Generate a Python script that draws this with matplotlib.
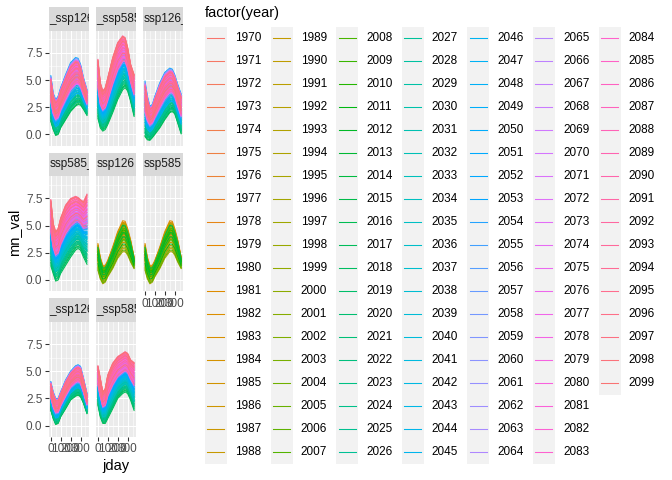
import numpy as np
import matplotlib
matplotlib.use('Agg')
import matplotlib.pyplot as plt
from matplotlib.patches import Rectangle

plt.rcParams['font.family'] = ['Liberation Sans', 'DejaVu Sans']

#                   Data

YEARS = list(range(1970, 2100))
HIST_YEARS = list(range(1970, 2015))
FUT_YEARS = list(range(2015, 2100))

JDAY = [1, 25, 50, 75, 100, 150, 200, 250, 275, 300, 330, 365]

# facet strip text as visible (the labels are clipped by the narrow strips)
STRIPS = ['_ssp126', '_ssp585', 'ssp126_', 'ssp585_', 'ssp126', 'ssp585', '_ssp126', '_ssp585']
SCENARIO = ['ssp126', 'ssp585', 'ssp126', 'ssp585', 'hist', 'hist', 'ssp126', 'ssp585']

# coolest / warmest curves per panel
LOW = [
    [1.2, 0.45, -0.1, 0.0, 0.6, 1.35, 2.1, 2.6, 2.75, 2.7, 2.3, 1.75],
    [1.5, 0.6, 0.3, 0.45, 0.9, 2.0, 3.2, 4.1, 4.3, 4.0, 3.05, 1.65],
    [-0.2, -0.5, -0.55, -0.3, 0.0, 0.6, 1.35, 2.0, 2.1, 1.9, 1.05, 0.05],
    [1.3, 0.6, -0.1, 0.0, 0.6, 1.35, 2.1, 2.75, 2.9, 2.75, 2.1, 1.45],
    [0.9, 0.1, -0.35, -0.2, 0.3, 1.05, 2.0, 2.6, 2.6, 2.3, 1.65, 1.05],
    [0.9, 0.1, -0.35, -0.2, 0.3, 1.05, 2.0, 2.6, 2.6, 2.3, 1.65, 1.05],
    [1.4, 0.65, 0.1, 0.2, 0.8, 1.55, 2.35, 2.7, 2.8, 2.65, 2.05, 1.1],
    [1.9, 0.8, 0.2, 0.2, 0.65, 1.55, 2.5, 2.95, 3.1, 2.95, 2.35, 1.4],
]
HIGH = [
    [5.4, 3.8, 3.2, 3.5, 4.3, 5.5, 6.6, 7.07, 7.0, 6.45, 5.2, 4.1],
    [6.9, 4.75, 4.0, 4.3, 5.2, 7.07, 8.45, 9.07, 8.9, 8.0, 6.45, 5.5],
    [4.9, 3.5, 2.6, 2.75, 3.5, 4.75, 5.7, 6.1, 6.0, 5.5, 4.6, 3.7],
    [7.4, 5.2, 4.45, 4.75, 5.7, 6.9, 7.5, 7.7, 7.6, 7.4, 7.2, 7.9],
    [3.35, 2.1, 1.35, 1.35, 1.8, 3.05, 4.45, 5.45, 5.4, 4.75, 3.7, 2.1],
    [3.35, 2.1, 1.35, 1.35, 1.8, 3.05, 4.45, 5.45, 5.4, 4.75, 3.7, 2.1],
    [4.05, 3.1, 2.5, 2.5, 3.1, 4.2, 5.0, 5.5, 5.6, 5.45, 4.35, 2.95],
    [5.5, 4.35, 3.1, 3.4, 4.65, 5.75, 6.35, 6.65, 6.8, 6.65, 6.05, 5.8],
]

# where each year sits between the coolest (0) and warmest (1) curve
LEVEL = {
    'hist': [0.45, 0.55, 0.40, 0.60, 0.50, 0.48, 0.52, 0.58, 0.42, 0.65,
             0.95, 0.70, 1.00, 0.62, 0.85, 0.30, 0.75, 0.90, 0.10, 0.80,
             0.55, 0.92, 0.20, 0.68, 0.00, 0.78, 0.40, 0.88, 0.35, 0.60,
             0.50, 0.72, 0.15, 0.82, 0.45, 0.65, 0.05, 0.76, 0.38, 0.58,
             0.70, 0.25, 0.62, 0.48, 0.85],
    'ssp585': [0.05, 0.00, 0.15, 0.08, 0.20, 0.03, 0.12, 0.25, 0.10, 0.18,
               0.28, 0.14, 0.22, 0.33, 0.19, 0.30, 0.24, 0.38, 0.27, 0.21,
               0.35, 0.42, 0.29, 0.37, 0.46, 0.32, 0.40, 0.50, 0.36, 0.44,
               0.52, 0.39, 0.47, 0.56, 0.43, 0.51, 0.60, 0.45, 0.54, 0.62,
               0.49, 0.58, 0.66, 0.53, 0.61, 0.70, 0.55, 0.64, 0.73, 0.59,
               0.67, 0.76, 0.62, 0.71, 0.80, 0.65, 0.74, 0.83, 0.68, 0.77,
               0.86, 0.60, 0.79, 0.88, 0.52, 0.82, 0.91, 0.70, 0.85, 0.94,
               0.58, 0.88, 0.97, 0.74, 0.64, 0.92, 1.00, 0.78, 0.55, 0.95,
               0.84, 0.98, 0.68, 0.90, 0.99],
    'ssp126': [0.02, 0.10, 0.00, 0.08, 0.15, 0.05, 0.12, 0.20, 0.07, 0.18,
               0.25, 0.14, 0.30, 0.22, 0.35, 0.27, 0.40, 0.32, 0.45, 0.38,
               0.50, 0.42, 0.58, 0.47, 0.62, 0.55, 0.68, 0.52, 0.72, 0.60,
               0.85, 0.30, 0.75, 0.95, 0.25, 0.65, 1.00, 0.35, 0.80, 0.55,
               0.90, 0.40, 0.70, 0.98, 0.45, 0.62, 0.88, 0.50, 0.78, 0.58,
               0.92, 0.48, 0.72, 0.85, 0.52, 0.66, 0.95, 0.44, 0.76, 0.60,
               0.82, 0.54, 0.70, 0.90, 0.46, 0.74, 0.86, 0.50, 0.68, 0.93,
               0.56, 0.80, 0.64, 0.88, 0.48, 0.76, 0.92, 0.58, 0.70, 0.84,
               0.52, 0.78, 0.66, 0.90, 0.60],
}


#                   ggplot default hue palette

def hcl_hex(h, c=100.0, l=65.0):
    hr = np.radians(h)
    u, v = c * np.cos(hr), c * np.sin(hr)
    xn, yn, zn = 95.047, 100.0, 108.883
    y = yn * ((l + 16) / 116) ** 3
    un = 4 * xn / (xn + 15 * yn + 3 * zn)
    vn = 9 * yn / (xn + 15 * yn + 3 * zn)
    uu, vv = u / (13 * l) + un, v / (13 * l) + vn
    x = 9 * y * uu / (4 * vv)
    z = -x / 3 - 5 * y + 3 * y / vv
    x, y, z = x / 100, y / 100, z / 100
    rgb = [3.240479 * x - 1.537150 * y - 0.498535 * z,
           -0.969256 * x + 1.875992 * y + 0.041556 * z,
           0.055648 * x - 0.204043 * y + 1.057311 * z]
    out = []
    for t in rgb:
        t = 1.055 * t ** (1 / 2.4) - 0.055 if t > 0.00304 else 12.92 * t
        out.append(min(max(t, 0.0), 1.0))
    return tuple(out)

n = len(YEARS)
COLORS = {yr: hcl_hex(15 + 360 * i / n) for i, yr in enumerate(YEARS)}


#                   Layout in pixels

W, H = 672, 480
fig = plt.figure(figsize=(7, 5), dpi=96)
fig.patch.set_facecolor('white')

def box(x0, y0, w, h):
    return [x0 / W, 1 - (y0 + h) / H, w / W, h / H]

COL_X = [49, 96.1, 143.2]
PW = 39.8
STRIP_TOP = [7, 152.6, 298.2]
SH = 23.6
PH = 115.0

panel_axes = []
for i, label in enumerate(STRIPS):
    r, c = divmod(i, 3)
    x0, y0 = COL_X[c], STRIP_TOP[r]
    sax = fig.add_axes(box(x0, y0, PW, SH))
    sax.set_facecolor('#D9D9D9')
    sax.set_xticks([]); sax.set_yticks([])
    for s in sax.spines.values():
        s.set_visible(False)
    sax.text(0.3 / PW, 0.5, label, transform=sax.transAxes, ha='left', va='center',
             fontsize=8.8, color='#1A1A1A', clip_on=True)

    ax = fig.add_axes(box(x0, y0 + SH, PW, PH))
    ax.set_facecolor('#EBEBEB')
    lo, hi = np.array(LOW[i]), np.array(HIGH[i])
    yrs = HIST_YEARS if SCENARIO[i] == 'hist' else FUT_YEARS
    for yr, f in zip(yrs, LEVEL[SCENARIO[i]]):
        ax.plot(JDAY, lo + f * (hi - lo), color=COLORS[yr], lw=0.8, solid_joinstyle='round')
    panel_axes.append(ax)

# shared scales
ymin = min(min(v) for v in LOW)
ymax = max(max(v) for v in HIGH)
yr_ = ymax - ymin
xr_ = JDAY[-1] - JDAY[0]
for i, ax in enumerate(panel_axes):
    r, c = divmod(i, 3)
    ax.set_xlim(JDAY[0] - 0.05 * xr_, JDAY[-1] + 0.05 * xr_)
    ax.set_ylim(ymin - 0.05 * yr_, ymax + 0.05 * yr_)
    ax.set_xticks([0, 100, 200, 300])
    ax.set_xticks([50, 150, 250, 350], minor=True)
    ax.set_yticks([0, 2.5, 5, 7.5])
    ax.set_yticks([1.25, 3.75, 6.25, 8.75], minor=True)
    ax.grid(which='major', color='white', lw=0.8)
    ax.grid(which='minor', color='white', lw=0.4)
    ax.set_axisbelow(True)
    for s in ax.spines.values():
        s.set_visible(False)
    ax.tick_params(which='minor', length=0)
    ax.tick_params(which='major', length=2.75, width=0.8, color='#333333',
                   labelsize=8.8, labelcolor='#4D4D4D', pad=2.2)
    bottom = (r == 2) or (r == 1 and c == 2)
    left = (c == 0)
    ax.tick_params(axis='x', bottom=bottom, labelbottom=bottom)
    ax.tick_params(axis='y', left=left, labelleft=left)
    if left:
        ax.set_yticklabels(['0.0', '2.5', '5.0', '7.5'])
    if bottom:
        ax.set_xticklabels(['0', '100', '200', '300'])

fig.text(14 / W, 1 - 232 / H, 'mn_val', rotation=90, ha='center', va='center', fontsize=11)
fig.text(116 / W, 1 - 466 / H, 'jday', ha='center', va='center', fontsize=11)


#                   Legend

lax = fig.add_axes([0, 0, 1, 1])
lax.set_xlim(0, W)
lax.set_ylim(H, 0)
lax.axis('off')
lax.text(205, 12.5, 'factor(year)', ha='left', va='center', fontsize=11)
NROW = 19
KW, KH = 22.0, 23.0
for i, yr in enumerate(YEARS):
    col, row = divmod(i, NROW)
    kx = 205 + 65.6 * col
    ky = 26.5 + KH * row
    lax.add_patch(Rectangle((kx, ky), KW, KH, facecolor='#F2F2F2', edgecolor='none'))
    lax.plot([kx + 2.3, kx + 19.3], [ky + KH / 2, ky + KH / 2], color=COLORS[yr], lw=0.8)
    lax.text(kx + 30, ky + KH / 2, str(yr), ha='left', va='center', fontsize=8.8)

fig.savefig('out.png', dpi=96)
